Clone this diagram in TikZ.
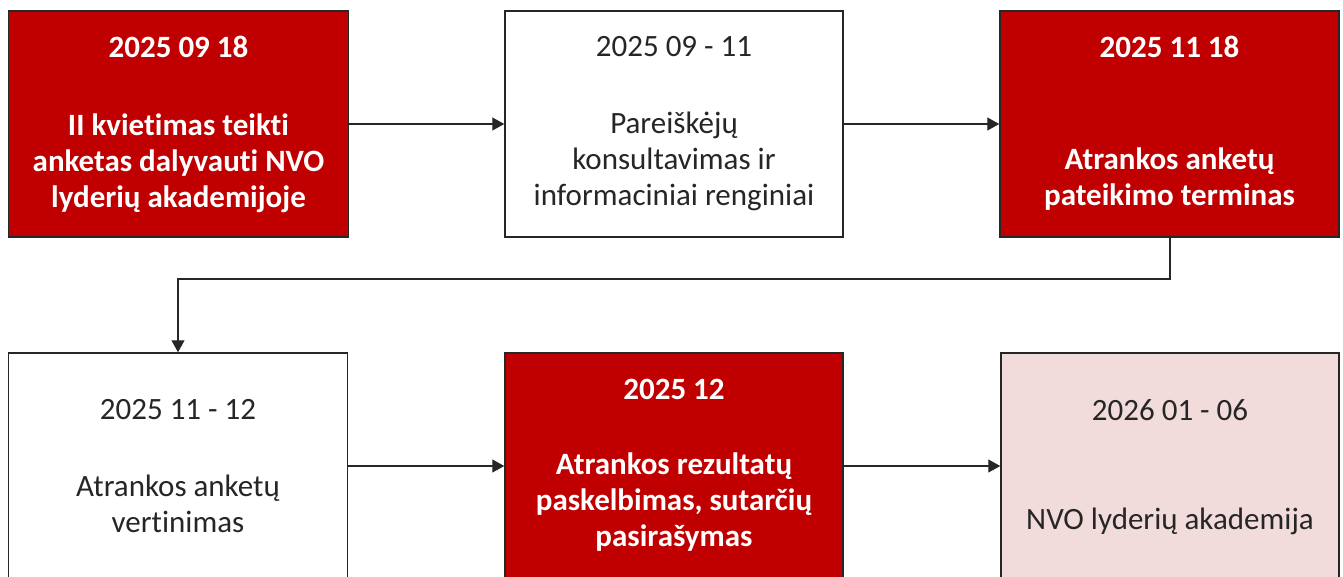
\documentclass[tikz,border=0pt]{standalone}
\usepackage{fontspec}
\setmainfont{Carlito}[Ligatures=NoCommon]
\usetikzlibrary{arrows.meta}
\definecolor{darkred}{HTML}{C00000}
\definecolor{lightpink}{HTML}{F2DCDB}
\definecolor{edge}{HTML}{262626}
\tikzset{
  box/.style={draw=edge, line width=1.5pt, rectangle, minimum height=226pt, inner sep=0pt},
  redbox/.style={box, fill=darkred},
  whitebox/.style={box, fill=white},
  pinkbox/.style={box, fill=lightpink},
  redtxt/.style={text=white, font=\fontsize{31}{36}\selectfont\bfseries, align=center, inner sep=0pt},
  plaintxt/.style={text=black!85, font=\fontsize{31}{36}\selectfont, align=center, inner sep=0pt},
  conn/.style={draw=edge, line width=1.3pt, -{Triangle[length=12pt,width=13pt]}}
}
\begin{document}
\begin{tikzpicture}[x=1pt,y=-1pt]
\useasboundingbox (0,0) rectangle (1343,576);
\clip (0,0) rectangle (1343,576);
% top row
\node[redbox, minimum width=340pt] (b1) at (178.5,124) {};
\node[whitebox, minimum width=338pt] (b2) at (674,124) {};
\node[redbox, minimum width=339pt] (b3) at (1169.5,124) {};
% bottom row
\node[whitebox, minimum width=339pt] (b4) at (178,466) {};
\node[redbox, minimum width=338pt] (b5) at (674,466) {};
\node[pinkbox, minimum width=338pt] (b6) at (1170,466) {};
% texts
\node[redtxt] (d1) at (178.5,47) {2025 09 18};
\node[redtxt] (t1) at (178.5,163) {II kvietimas teikti\\anketas dalyvauti NVO\\lyderių akademijoje};
\node[plaintxt] (d2) at (674,47) {2025 09 - 11};
\node[plaintxt] (t2) at (674,161) {Pareiškėjų\\konsultavimas ir\\informaciniai renginiai};
\node[redtxt] (d3) at (1169.5,47) {2025 11 18};
\node[redtxt] (t3) at (1169.5,179) {Atrankos anketų\\pateikimo terminas};
\node[plaintxt] (d4) at (178,410) {2025 11 - 12};
\node[plaintxt] (t4) at (178,504) {Atrankos anketų\\vertinimas};
\node[redtxt] (d5) at (674,389) {2025 12};
\node[redtxt] (t5) at (674,502) {Atrankos rezultatų\\paskelbimas, sutarčių\\pasirašymas};
\node[plaintxt] (d6) at (1170,410) {2026 01 - 06};
\node[plaintxt] (t6) at (1170,521) {NVO lyderių akademija};
% connectors
\draw[conn] (b1.east) -- (b2.west);
\draw[conn] (b2.east) -- (b3.west);
\coordinate (c1) at (1170,279);
\coordinate (c2) at (178,279);
\draw[conn] (b3.south -| c1) -- (c1) -- (c2) -- (b4.north -| c2);
\draw[conn] (b4.east) -- (b5.west);
\draw[conn] (b5.east) -- (b6.west);
\end{tikzpicture}
\end{document}
